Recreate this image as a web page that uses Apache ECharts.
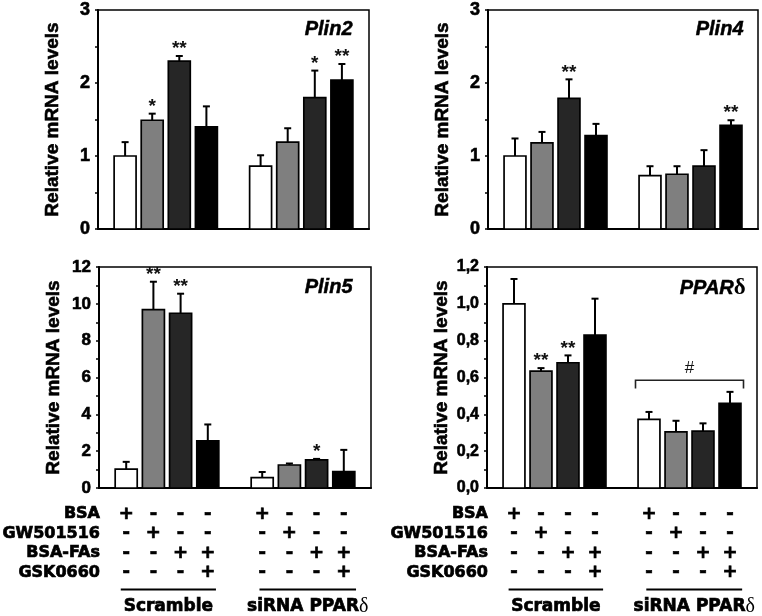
<!DOCTYPE html>
<html>
<head>
<meta charset="utf-8">
<script src="https://cdn.jsdelivr.net/npm/echarts@6/dist/echarts.min.js"></script>
<style>
html,body{margin:0;padding:0;background:#fff;}
#chart{width:762px;height:616px;}
</style>
</head>
<body>
<div id="chart"></div>
<script>
// ---- data ----
const xSlots = [0, 1, 2, 3, 5, 6, 7, 8];
const barFills = ['#ffffff', '#7f7f7f', '#262626', '#000000', '#ffffff', '#7f7f7f', '#262626', '#000000'];

const plin2Mean = [1.00, 1.49, 2.30, 1.40, 0.86, 1.19, 1.80, 2.04];
const plin2Err  = [0.19, 0.09, 0.07, 0.28, 0.15, 0.19, 0.37, 0.22];
const plin2Sig  = ['', '*', '**', '', '', '', '*', '**'];

const plin4Mean = [1.00, 1.18, 1.79, 1.28, 0.73, 0.75, 0.86, 1.42];
const plin4Err  = [0.24, 0.15, 0.26, 0.16, 0.13, 0.11, 0.22, 0.07];
const plin4Sig  = ['', '', '**', '', '', '', '', '**'];

const plin5Mean = [1.02, 9.69, 9.49, 2.56, 0.56, 1.25, 1.53, 0.89];
const plin5Err  = [0.40, 1.51, 1.06, 0.89, 0.31, 0.08, 0.05, 1.18];
const plin5Sig  = ['', '**', '**', '', '', '', '*', ''];

const ppardMean = [1.00, 0.635, 0.68, 0.83, 0.373, 0.305, 0.309, 0.46];
const ppardErr  = [0.135, 0.016, 0.04, 0.198, 0.04, 0.06, 0.042, 0.062];
const ppardSig  = ['', '**', '**', '', '', '', '', ''];

const ppardTickLabels = ['0,0', '0,2', '0,4', '0,6', '0,8', '1,0', '1,2'];
const ppardBracket = {from: 4.5, to: 8.5, level: 0.585, foot: 0.54, mark: '#', markLevel: 0.65};

const rowNames = ['BSA', 'GW501516', 'BSA-FAs', 'GSK0660'];
const rowBSA   = ['+', '-', '-', '-', '+', '-', '-', '-'];
const rowGW    = ['-', '+', '-', '-', '-', '+', '-', '-'];
const rowFAs   = ['-', '-', '+', '+', '-', '-', '+', '+'];
const rowGSK   = ['-', '-', '-', '+', '-', '-', '-', '+'];
const groupNames = ['Scramble', 'siRNA PPAR'];
const groupSpans = [[-0.2, 3.3], [4.9, 8.45]];

// ---- layout ----
const grids = [
  {left: 98, top: 10, width: 271, height: 219},
  {left: 488, top: 10, width: 270, height: 219},
  {left: 99, top: 267, width: 272, height: 221},
  {left: 487, top: 267, width: 270, height: 221}
];
const SANS = 'Liberation Sans, Arial, sans-serif';
const TABLE_FONT = 'DejaVu Sans, sans-serif';

const panels = [
  {mean: plin2Mean, err: plin2Err, sig: plin2Sig, max: 3, interval: 1, labelSize: 18},
  {mean: plin4Mean, err: plin4Err, sig: plin4Sig, max: 3, interval: 1, labelSize: 18},
  {mean: plin5Mean, err: plin5Err, sig: plin5Sig, max: 12, interval: 2, labelSize: 17},
  {mean: ppardMean, err: ppardErr, sig: ppardSig, max: 1.2, interval: 0.2, labelSize: 16,
   fmt: (v) => ppardTickLabels[Math.round(v / 0.2)]}
];

function makeBarRenderer(p) {
  return function (params, api) {
    const i = params.dataIndex;
    const x = api.value(0), m = api.value(1), e = api.value(2);
    const base = api.coord([x, 0]);
    const top = api.coord([x, m]);
    const et = api.coord([x, m + e]);
    const w = api.size([1, 0])[0] * 0.81;
    const children = [
      {type: 'rect', shape: {x: base[0] - w / 2, y: top[1], width: w, height: base[1] - top[1]},
       style: {fill: barFills[i], stroke: '#000', lineWidth: 1.7}},
      {type: 'line', shape: {x1: top[0], y1: top[1], x2: et[0], y2: et[1]},
       style: {stroke: '#000', lineWidth: 2}},
      {type: 'line', shape: {x1: et[0] - 3.5, y1: et[1], x2: et[0] + 3.5, y2: et[1]},
       style: {stroke: '#000', lineWidth: 2}}
    ];
    if (p.sig[i]) {
      children.push({type: 'text', style: {text: p.sig[i], x: et[0], y: et[1] - 7,
        align: 'center', verticalAlign: 'middle', font: 'bold 19px ' + SANS, fill: '#111'}});
    }
    return {type: 'group', children: children};
  };
}

const tableTxt = (text, x, y, align, size) => ({type: 'text', style: {text: text, x: x, y: y,
  align: align, verticalAlign: 'middle', font: 'bold ' + size + 'px ' + TABLE_FONT, fill: '#000',
  stroke: '#000', lineWidth: 0.7}});

function makeTableRenderer() {
  const rows = [rowBSA, rowGW, rowFAs, rowGSK];
  const rowOff = [26.3, 45.8, 65.3, 84.8];
  return function (params, api) {
    const i = params.dataIndex;
    const x = api.value(0);
    const c = api.coord([x, 0]);
    const children = rows.map((r, k) => tableTxt(r[i], c[0], c[1] + rowOff[k], 'center', 18));
    if (i === 0) {
      const left = api.coord([-1, 0]);
      rowNames.forEach((n, k) => children.push(tableTxt(n, left[0] + 1, c[1] + rowOff[k], 'right', 16)));
      groupSpans.forEach((s, g) => {
        const a = api.coord([s[0], 0]), b = api.coord([s[1], 0]);
        children.push({type: 'line', shape: {x1: a[0], y1: c[1] + 101.6, x2: b[0], y2: c[1] + 101.6},
          style: {stroke: '#000', lineWidth: 2}});
        const mid = (a[0] + b[0]) / 2;
        if (g === 0) {
          children.push(tableTxt(groupNames[g], mid, c[1] + 119, 'center', 17));
        } else {
          children.push({type: 'text', style: {text: '{a|' + groupNames[g] + '}{b|δ}', x: mid, y: c[1] + 119,
            align: 'center', verticalAlign: 'middle',
            rich: {a: {font: 'bold 17px ' + TABLE_FONT, fill: '#000', stroke: '#000', lineWidth: 0.7},
                   b: {font: '20px Liberation Serif, serif', fill: '#000'}}}});
        }
      });
    }
    return {type: 'group', children: children};
  };
}

function bracketRenderer(params, api) {
  const b = ppardBracket;
  const a1 = api.coord([b.from, b.level]), a2 = api.coord([b.to, b.level]);
  const f1 = api.coord([b.from, b.foot]), f2 = api.coord([b.to, b.foot]);
  const m = api.coord([(b.from + b.to) / 2, b.markLevel]);
  return {type: 'group', children: [
    {type: 'polyline', shape: {points: [[f1[0], f1[1]], [a1[0], a1[1]], [a2[0], a2[1]], [f2[0], f2[1]]]},
     style: {stroke: '#222', lineWidth: 1.6, fill: null}},
    {type: 'text', style: {text: b.mark, x: m[0], y: m[1], align: 'center', verticalAlign: 'middle',
     font: '17px ' + SANS, fill: '#111'}}
  ]};
}

const xAxes = grids.map((g, k) => ({
  type: 'value', gridIndex: k, min: -1, max: 9,
  axisLine: {show: true, onZero: false, lineStyle: {color: '#000', width: 2}},
  axisTick: {show: false}, axisLabel: {show: false}, splitLine: {show: false}
}));
const yAxes = panels.map((p, k) => ({
  type: 'value', gridIndex: k, min: 0, max: p.max, interval: p.interval,
  name: 'Relative mRNA levels', nameLocation: 'middle', nameGap: 36,
  nameTextStyle: {fontFamily: SANS, fontWeight: 'bold', fontSize: 19, color: '#000',
    textBorderColor: '#000', textBorderWidth: 0.6},
  axisLine: {show: true, onZero: false, lineStyle: {color: '#000', width: 2}},
  axisTick: {show: true, length: 3, lineStyle: {color: '#000', width: 1.5}},
  minorTick: {show: true, splitNumber: 2, length: 3, lineStyle: {color: '#000', width: 1.5}},
  axisLabel: {fontFamily: SANS, fontWeight: 'bold', fontSize: p.labelSize, color: '#000', margin: 8,
    textBorderColor: '#000', textBorderWidth: 0.6,
    formatter: p.fmt ? p.fmt : (v) => String(v)},
  splitLine: {show: false}
}));

const series = [];
panels.forEach((p, k) => {
  series.push({
    type: 'custom', xAxisIndex: k, yAxisIndex: k, renderItem: makeBarRenderer(p),
    encode: {x: 0, y: 1},
    data: xSlots.map((x, i) => [x, p.mean[i], p.err[i]])
  });
});
[2, 3].forEach((k) => {
  series.push({
    type: 'custom', xAxisIndex: k, yAxisIndex: k, renderItem: makeTableRenderer(), clip: false,
    encode: {x: 0, y: 1}, silent: true,
    data: xSlots.map((x) => [x, 0])
  });
});
series.push({
  type: 'custom', xAxisIndex: 3, yAxisIndex: 3, renderItem: bracketRenderer,
  encode: {x: 0, y: 1}, data: [[ppardBracket.from, ppardBracket.level]]
});

const titleStyle = {fontFamily: SANS, fontWeight: 'bold', fontStyle: 'italic', fontSize: 20, color: '#000',
  textBorderColor: '#000', textBorderWidth: 0.5};
const option = {
  animation: false,
  backgroundColor: '#fff',
  title: [
    {text: 'Plin2', right: 409, top: 19, padding: 0, textStyle: titleStyle},
    {text: 'Plin4', right: 18, top: 19, padding: 0, textStyle: titleStyle},
    {text: 'Plin5', right: 409, top: 277, padding: 0, textStyle: titleStyle},
    {text: '{a|PPAR}{b|δ}', right: 16, top: 277, padding: 0,
     textStyle: {rich: {a: titleStyle, b: {fontFamily: 'Liberation Serif, serif', fontSize: 23, color: '#000'}}}}
  ],
  grid: grids.map((g) => Object.assign({show: true, borderColor: '#000', borderWidth: 1.5, backgroundColor: 'transparent'}, g)),
  xAxis: xAxes,
  yAxis: yAxes,
  series: series
};

const chart = echarts.init(document.getElementById('chart'), null, {renderer: 'canvas'});
chart.setOption(option);
</script>
</body>
</html>
